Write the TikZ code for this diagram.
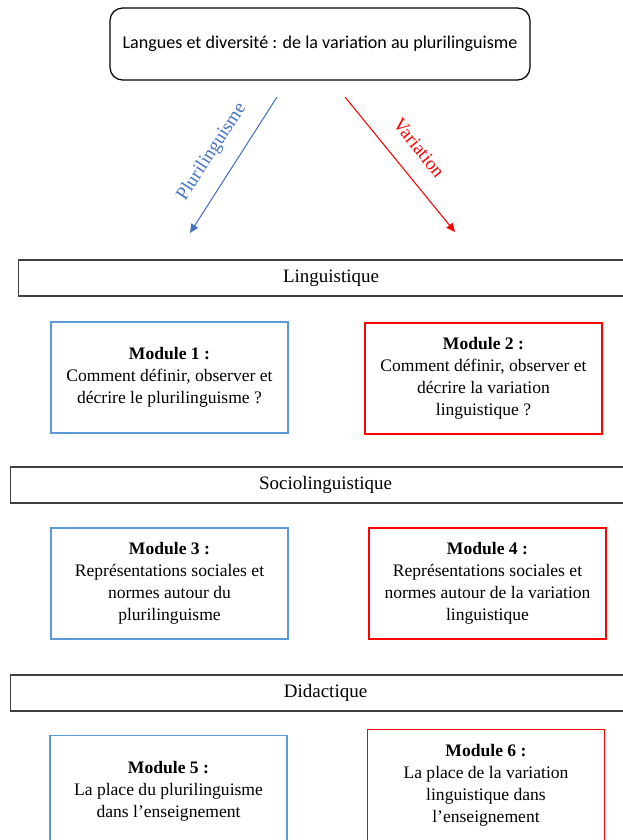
\documentclass[tikz,border=0pt]{standalone}
\usepackage{fontspec}
\setmainfont{Liberation Serif}
\newfontfamily\titlefont{Carlito}
\usetikzlibrary{arrows.meta}

\definecolor{plublue}{RGB}{91,155,213}
\definecolor{arrblue}{RGB}{68,114,196}
\definecolor{varred}{RGB}{255,0,0}

\begin{document}
\begin{tikzpicture}[x=0.02cm,y=-0.02cm,
  titlebox/.style={draw=black,line width=0.7pt,rounded corners=0.25cm,minimum width=8.4cm,minimum height=1.44cm,font=\titlefont\fontsize{10.3}{12}\selectfont},
  band/.style={draw=black!75,line width=0.7pt,anchor=west,minimum height=0.72cm,font=\fontsize{10.8}{12}\selectfont},
  module/.style={line width=0.7pt,minimum width=4.74cm,minimum height=2.22cm,align=center,font=\fontsize{10}{12.5}\selectfont},
  plumod/.style={module,draw=plublue},
  varmod/.style={module,draw=varred},
  tip/.style={-{Triangle[length=5pt,width=4.5pt]},line width=0.6pt}]
\clip (0,0) rectangle (623,840);

\node[titlebox] (titre) at (320,44) {\raisebox{2.5pt}{Langues et diversité : de la variation au plurilinguisme}};

\coordinate (pstart) at (277,97);
\coordinate (pend) at (190,233);
\coordinate (vstart) at (345,97);
\coordinate (vend) at (455,232);
\draw[tip,arrblue] (pstart) -- (pend);
\draw[tip,varred] (vstart) -- (vend);
\node[rotate=57,text=arrblue,font=\fontsize{10.8}{12}\selectfont] (plulabel) at (212,152) {Plurilinguisme};
\node[rotate=-51,text=varred,font=\fontsize{10.8}{12}\selectfont] (varlabel) at (419,148) {Variation};

\node[band,minimum width=12.5cm] (ling) at (18,278) {Linguistique};
\node[plumod] (mod1) at (169.5,377.5) {\textbf{Module 1 :}\\Comment définir, observer et\\décrire le plurilinguisme ?};
\node[varmod] (mod2) at (483.5,378.5) {\textbf{Module 2 :}\\Comment définir, observer et\\décrire la variation\\linguistique ?};

\node[band,minimum width=12.6cm] (socio) at (10,485) {Sociolinguistique};
\node[plumod] (mod3) at (169.5,583.5) {\textbf{Module 3 :}\\Représentations sociales et\\normes autour du\\plurilinguisme};
\node[varmod] (mod4) at (487.5,583.5) {\textbf{Module 4 :}\\Représentations sociales et\\normes autour de la variation\\linguistique};

\node[band,minimum width=12.6cm] (dida) at (10,693) {Didactique};
\node[plumod] (mod5) at (168.5,791) {\textbf{Module 5 :}\\La place du plurilinguisme\\dans l’enseignement};
\node[varmod] (mod6) at (486,785) {\textbf{Module 6 :}\\La place de la variation\\linguistique dans\\l’enseignement};
\end{tikzpicture}
\end{document}
